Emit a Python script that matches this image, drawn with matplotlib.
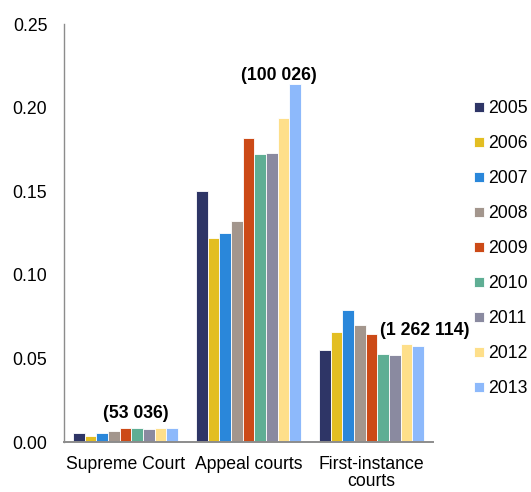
import matplotlib.pyplot as plt
import numpy as np

plt.rcParams['font.family'] = ['Liberation Sans', 'DejaVu Sans']

courts = ['Supreme Court', 'Appeal courts', 'First-instance\ncourts']
years = ['2005', '2006', '2007', '2008', '2009', '2010', '2011', '2012', '2013']
colors = ['#2E3566', '#E3BE22', '#2A87DA', '#A3968D', '#CC4A17',
          '#5FAE94', '#8A8AA0', '#FEDF8A', '#8DB9FB']

supreme = [0.0053, 0.0037, 0.0053, 0.0067, 0.0083, 0.0083, 0.0077, 0.0083, 0.0083]
appeal = [0.150, 0.122, 0.125, 0.132, 0.182, 0.172, 0.173, 0.194, 0.214]
first = [0.0552, 0.066, 0.0788, 0.070, 0.0647, 0.0527, 0.0523, 0.0588, 0.0572]
case_counts = ['(53 036)', '(100 026)', '(1 262 114)']

values = np.array([supreme, appeal, first])
fs = 12.7

fig = plt.figure(figsize=(5.31, 4.92), dpi=100)
ax = fig.add_axes([0.1205, 0.1016, 0.695, 0.8496])

x = np.arange(len(courts))
w = 0.095
for i, yr in enumerate(years):
    ax.bar(x + (i - 4) * w, values[:, i], w, color=colors[i], label=yr,
           edgecolor='white', linewidth=0.6)

# bold totals above each group
ax.text(x[0] + 0.08, values[0].max() + 0.0035, case_counts[0], ha='center',
        va='bottom', fontsize=fs, fontweight='bold')
ax.text(x[1] + 0.25, values[1].max() + 0.0003, case_counts[1], ha='center',
        va='bottom', fontsize=fs, fontweight='bold')
ax.text(x[2] + 0.43, 0.0615, case_counts[2], ha='center',
        va='bottom', fontsize=fs, fontweight='bold')

ax.set_xlim(-0.5, 2.5)
ax.set_ylim(0, 0.25)
ax.set_yticks(np.arange(0, 0.26, 0.05))
ax.set_yticklabels(['%.2f' % v for v in np.arange(0, 0.26, 0.05)])
ax.set_xticks(x)
ax.set_xticklabels(courts, linespacing=1.0)
ax.tick_params(axis='y', length=0, labelsize=fs, pad=12)
ax.tick_params(axis='x', length=0, labelsize=fs, pad=10)
for s in ['top', 'right']:
    ax.spines[s].set_visible(False)
ax.spines['left'].set_color('#8C8C8C')
ax.spines['left'].set_linewidth(1.0)
ax.spines['bottom'].set_color('#8C8C8C')
ax.spines['bottom'].set_linewidth(1.4)

fig.legend(loc='upper left', bbox_to_anchor=(0.876, 0.814), frameon=False,
           fontsize=fs, handlelength=0.55, handleheight=0.55,
           handletextpad=0.25, labelspacing=1.02, borderpad=0)

fig.savefig('out.png', dpi=100)
